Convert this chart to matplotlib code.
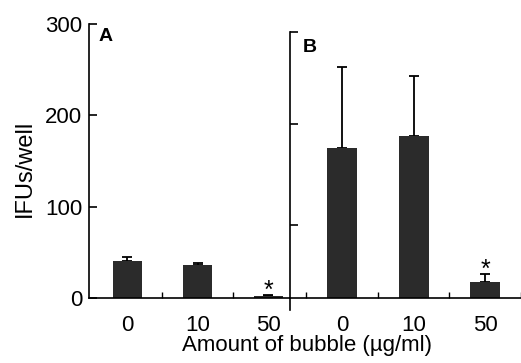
import matplotlib.pyplot as plt
import numpy as np

# Dados
doses = ['0', '10', '50']
media_A = [40.5, 36, 2]
erro_A = [4.5, 2, 1]
media_B = [164, 177, 17.5]
erro_B = [89, 66, 9]

plt.rcParams['font.family'] = ['Liberation Sans', 'DejaVu Sans']

cor_barra = '#2b2b2b'
fig = plt.figure(figsize=(5.21, 3.63), dpi=100)
ax1 = fig.add_axes([89 / 521, 1 - 298 / 363, 201 / 521, 274 / 363])
ax2 = fig.add_axes([290 / 521, 1 - 298 / 363, 231 / 521, 274 / 363])

x = np.arange(len(doses))

# Painel A
ax1.bar(x, media_A, width=0.41, color=cor_barra, zorder=2)
ax1.errorbar(x, media_A, yerr=[np.zeros(3), erro_A], fmt='none', ecolor='k',
             elinewidth=1.3, capsize=3.3, capthick=1.3, zorder=1)
ax1.set_xlim(-0.54, 2.31)
ax1.set_ylim(0, 300)
ax1.set_yticks([0, 100, 200, 300])
ax1.set_yticklabels(['0', '100', '200', '300'], fontsize=16)
ax1.set_ylabel('IFUs/well', fontsize=17)
ax1.yaxis.set_label_coords(-0.264, 0.474)
ax1.text(0.045, 0.985, 'A', transform=ax1.transAxes, fontsize=14,
         fontweight='bold', va='top')
ax1.text(2, media_A[2] + erro_A[2] + 18, '*', ha='center', va='top', fontsize=18)

# Painel B
ax2.bar(x, media_B, width=0.42, color=cor_barra, zorder=2)
ax2.errorbar(x, media_B, yerr=[np.zeros(3), erro_B], fmt='none', ecolor='k',
             elinewidth=1.3, capsize=3.3, capthick=1.3, zorder=1)
ax2.set_xlim(-0.73, 2.5)
ax2.set_ylim(0, 300)
ax2.set_yticks([80, 190, 291])
ax2.set_yticklabels([])
ax2.spines['left'].set_bounds(0, 291)
ax2.plot([0, 0], [0, -13], transform=ax2.get_yaxis_transform(), color='k',
         lw=1.2, clip_on=False)
ax2.text(0.056, 0.945, 'B', transform=ax2.transAxes, fontsize=14,
         fontweight='bold', va='top')
ax2.text(2, media_B[2] + erro_B[2] + 17, '*', ha='center', va='top', fontsize=18)

for ax, minor in ((ax1, [0.5, 1.5]), (ax2, [-0.5, 0.5, 1.5, 2.5])):
    ax.spines['top'].set_visible(False)
    ax.spines['right'].set_visible(False)
    ax.spines['left'].set_linewidth(1.2)
    ax.spines['bottom'].set_linewidth(1.2)
    ax.set_xticks(x)
    ax.set_xticklabels(doses, fontsize=16)
    ax.set_xticks(minor, minor=True)
    ax.tick_params(axis='x', which='major', length=0, pad=12)
    ax.tick_params(axis='x', which='minor', direction='in', length=4, width=1)
    ax.tick_params(axis='y', direction='in', length=6, width=1.2, pad=5)

fig.text(307 / 521, 1 - 346 / 363, 'Amount of bubble (µg/ml)', ha='center',
         va='center', fontsize=16)

fig.savefig('out.png', dpi=100)
